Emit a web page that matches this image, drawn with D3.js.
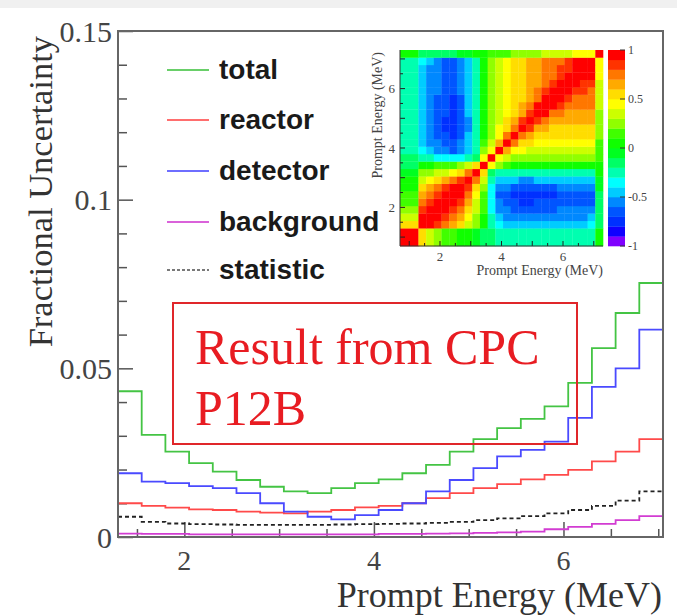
<!DOCTYPE html>
<html>
<head>
<meta charset="utf-8">
<script src="https://cdnjs.cloudflare.com/ajax/libs/d3/7.8.5/d3.min.js"></script>
<style>
  body { margin: 0; background: #fff; }
  svg { display: block; }
</style>
</head>
<body>
<div id="chart_area"></div>
<script>
// bin edges of the main histograms (MeV)
var binEdges = [1.3, 1.55, 1.8, 2.05, 2.3, 2.55, 2.8, 3.05, 3.3, 3.55, 3.8, 4.05, 4.3,
    4.55, 4.8, 5.05, 5.3, 5.55, 5.8, 6.05, 6.3, 6.55, 6.8, 7.05];

var total = [0.0432, 0.0303, 0.0253, 0.0219, 0.0194, 0.0169, 0.0149, 0.0135, 0.0130, 0.0145, 0.0160, 0.0171,
    0.0189, 0.0214, 0.0253, 0.0290, 0.0323, 0.0350, 0.0387, 0.0457, 0.0560, 0.0664, 0.0753];
var reactor = [0.0100, 0.0092, 0.0087, 0.0082, 0.0080, 0.0075, 0.0072, 0.0070, 0.0075, 0.0080, 0.0088, 0.0092,
    0.0100, 0.0115, 0.0130, 0.0145, 0.0157, 0.0171, 0.0184, 0.0199, 0.0224, 0.0253, 0.0290];
var detector = [0.0189, 0.0164, 0.0160, 0.0151, 0.0145, 0.0130, 0.0100, 0.0075, 0.0060, 0.0052, 0.0065, 0.0080,
    0.0100, 0.0135, 0.0169, 0.0204, 0.0239, 0.0258, 0.0283, 0.0353, 0.0445, 0.0500, 0.0615];
var background = [0.0010, 0.0009, 0.0009, 0.0008, 0.0008, 0.0008, 0.0008, 0.0008, 0.0008, 0.0008, 0.0008, 0.0009,
    0.0009, 0.0010, 0.0011, 0.0012, 0.0014, 0.0016, 0.0023, 0.0030, 0.0039, 0.0050, 0.0062];
var statistic = [0.0060, 0.0045, 0.0040, 0.0038, 0.0037, 0.0036, 0.0036, 0.0036, 0.0036, 0.0037, 0.0038, 0.0039,
    0.0040, 0.0042, 0.0045, 0.0050, 0.0055, 0.0062, 0.0070, 0.0080, 0.0092, 0.0108, 0.0135];

var seriesNames = ["total", "reactor", "detector", "background", "statistic"];
var yTicks = [0, 0.05, 0.1, 0.15];
var yTickLabels = ["0", "0.05", "0.1", "0.15"];
var xTicks = [2, 4, 6];

// correlation matrix of the inset (bin edges in MeV, rows from bottom)
var corrEdges = [0.7, 1.3, 1.55, 1.8, 2.05, 2.3, 2.55, 2.8, 3.05, 3.3, 3.55, 3.8, 4.05, 4.3,
    4.55, 4.8, 5.05, 5.3, 5.55, 5.8, 6.05, 6.3, 6.55, 6.8, 7.05, 7.3];
var corr = [
 [1, .5, .35, .25, .15, .1, .05, 0, -.1, -.15, -.2, -.25, -.27, -.28, -.28, -.28, -.28, -.28, -.28, -.27, -.27, -.26, -.25, -.25, 0],
 [.5, 1, .9, .8, .7, .6, .5, .35, .2, 0, -.23, -.38, -.43, -.45, -.46, -.46, -.45, -.45, -.44, -.43, -.43, -.43, -.41, -.39, -.15],
 [.35, .9, 1, .9, .85, .75, .6, .45, .25, .05, -.28, -.47, -.53, -.56, -.57, -.57, -.56, -.56, -.55, -.53, -.53, -.53, -.51, -.48, -.15],
 [.25, .8, .9, 1, .9, .85, .7, .55, .3, .1, -.32, -.53, -.6, -.63, -.64, -.64, -.63, -.63, -.62, -.6, -.6, -.6, -.57, -.55, -.15],
 [.15, .7, .85, .9, 1, .9, .8, .6, .35, .1, -.35, -.59, -.66, -.7, -.72, -.72, -.7, -.7, -.69, -.66, -.66, -.66, -.64, -.61, -.15],
 [.1, .6, .75, .85, .9, 1, .9, .7, .4, .15, -.37, -.62, -.7, -.74, -.75, -.75, -.74, -.74, -.72, -.7, -.7, -.7, -.67, -.64, -.12],
 [.05, .5, .6, .7, .8, .9, 1, .8, .5, .2, -.32, -.53, -.6, -.63, -.64, -.64, -.63, -.63, -.62, -.6, -.6, -.6, -.57, -.55, -.1],
 [0, .35, .45, .55, .6, .7, .8, 1, .7, .3, -.25, -.41, -.47, -.5, -.51, -.51, -.5, -.5, -.48, -.47, -.47, -.47, -.45, -.43, -.05],
 [-.1, .2, .25, .3, .35, .4, .5, .7, 1, .5, -.15, -.25, -.28, -.3, -.3, -.3, -.3, -.3, -.29, -.28, -.28, -.28, -.27, -.26, 0],
 [-.15, 0, .05, .1, .1, .15, .2, .3, .5, 1, .4, .2, .1, .05, .02, 0, 0, 0, 0, 0, 0, 0, 0, 0, .05],
 [-.2, -.23, -.28, -.32, -.35, -.37, -.32, -.25, -.15, .4, 1, .45, .32, .25, .2, .2, .2, .2, .2, .2, .2, .2, .2, .2, .1],
 [-.25, -.38, -.47, -.53, -.59, -.62, -.53, -.41, -.25, .2, .45, 1, .6, .47, .4, .35, .35, .35, .35, .35, .35, .35, .35, .35, .15],
 [-.27, -.43, -.53, -.6, -.66, -.7, -.6, -.47, -.28, .1, .32, .6, 1, .7, .57, .5, .45, .45, .45, .45, .45, .45, .45, .45, .18],
 [-.28, -.45, -.56, -.63, -.7, -.74, -.63, -.5, -.3, .05, .25, .47, .7, 1, .75, .62, .55, .5, .5, .5, .5, .5, .5, .5, .2],
 [-.28, -.46, -.57, -.64, -.72, -.75, -.64, -.51, -.3, .02, .2, .4, .57, .75, 1, .8, .67, .6, .55, .55, .55, .55, .55, .55, .22],
 [-.28, -.46, -.57, -.64, -.72, -.75, -.64, -.51, -.3, 0, .2, .35, .5, .62, .8, 1, .85, .72, .65, .6, .6, .6, .6, .6, .25],
 [-.28, -.45, -.56, -.63, -.7, -.74, -.63, -.5, -.3, 0, .2, .35, .45, .55, .67, .85, 1, .9, .77, .7, .65, .65, .65, .65, .28],
 [-.28, -.45, -.56, -.63, -.7, -.74, -.63, -.5, -.3, 0, .2, .35, .45, .5, .6, .72, .9, 1, .95, .82, .75, .7, .7, .7, .3],
 [-.28, -.44, -.55, -.62, -.69, -.72, -.62, -.48, -.29, 0, .2, .35, .45, .5, .55, .65, .77, .95, 1, .95, .84, .77, .72, .72, .32],
 [-.27, -.43, -.53, -.6, -.66, -.7, -.6, -.47, -.28, 0, .2, .35, .45, .5, .55, .6, .7, .82, .95, 1, .95, .87, .8, .75, .35],
 [-.27, -.43, -.53, -.6, -.66, -.7, -.6, -.47, -.28, 0, .2, .35, .45, .5, .55, .6, .65, .75, .84, .95, 1, .95, .87, .8, .38],
 [-.26, -.43, -.53, -.6, -.66, -.7, -.6, -.47, -.28, 0, .2, .35, .45, .5, .55, .6, .65, .7, .77, .87, .95, 1, .95, .9, .4],
 [-.25, -.41, -.51, -.57, -.64, -.67, -.57, -.45, -.27, 0, .2, .35, .45, .5, .55, .6, .65, .7, .72, .8, .87, .95, 1, .95, .42],
 [-.25, -.39, -.48, -.55, -.61, -.64, -.55, -.43, -.26, 0, .2, .35, .45, .5, .55, .6, .65, .7, .72, .75, .8, .9, .95, 1, .45],
 [0, -.15, -.15, -.15, -.15, -.12, -.1, -.05, 0, .05, .1, .15, .18, .2, .22, .25, .28, .3, .32, .35, .38, .4, .42, .45, 1]
];
var colorbarTicks = [1, 0.5, 0, -0.5, -1];
var insetTicks = [2, 4, 6];

// 20 colour levels of the ROOT-like palette, from -1 to 1
var palette = ["#8000ff", "#1000ff", "#0030ff", "#0055ff", "#0088ff", "#00ccff", "#00ffff", "#00ffb0",
    "#00ff66", "#00ff20", "#10ff00", "#40ff00", "#90ff00", "#ccff00", "#ffff00", "#ffdd00",
    "#ffaa00", "#ff7700", "#ff3300", "#ff0000"];

var W = 677, H = 615;
var svg = d3.select("#chart_area").append("svg")
    .attr("width", W)
    .attr("height", H);

svg.append("rect").attr("x", 0).attr("y", 0).attr("width", W).attr("height", 8).attr("fill", "#f0f0f0");

var x = d3.scaleLinear().domain([1.3, 7.05]).range([118, 663]);
var y = d3.scaleLinear().domain([0, 0.15]).range([537, 31]);

var serif = "'Liberation Serif', 'Times New Roman', serif";
var sans = "'Liberation Sans', Arial, sans-serif";

// axes (ticks inside, ROOT style)
var yAxis = d3.axisRight(y).tickValues(d3.range(0, 0.1501, 0.01)).tickSize(9).tickFormat("");
svg.append("g").attr("transform", "translate(118,0)").call(yAxis)
    .call(function(g) { g.select(".domain").remove(); })
    .selectAll("line").attr("stroke", "#555").attr("stroke-width", 1.5)
    .attr("x2", function(d) { return yTicks.some(function(t) { return Math.abs(t - d) < 1e-6; }) ? 15 : 9; });

var xAxis = d3.axisTop(x).tickValues(d3.range(1.5, 7.01, 0.5)).tickSize(8).tickFormat("");
svg.append("g").attr("transform", "translate(0,537)").call(xAxis)
    .call(function(g) { g.select(".domain").remove(); })
    .selectAll("line").attr("stroke", "#555").attr("stroke-width", 1.5)
    .attr("y2", function(d) { return xTicks.indexOf(d) >= 0 ? -15 : -8; });

svg.append("g").selectAll("text").data(yTicks).enter().append("text")
    .attr("x", 112).attr("y", function(d) { return y(d); })
    .attr("dy", "0.35em").attr("text-anchor", "end")
    .style("font-family", serif).style("font-size", "30px").attr("fill", "#444")
    .text(function(d, i) { return yTickLabels[i]; });

svg.append("g").selectAll("text").data(xTicks).enter().append("text")
    .attr("x", function(d) { return x(d); }).attr("y", 570)
    .attr("text-anchor", "middle")
    .style("font-family", serif).style("font-size", "28px").attr("fill", "#444")
    .text(function(d) { return d; });

svg.append("text").attr("x", 662).attr("y", 607).attr("text-anchor", "end")
    .style("font-family", serif).style("font-size", "36px").attr("fill", "#333")
    .text("Prompt Energy (MeV)");

svg.append("text").attr("transform", "translate(52,36) rotate(-90)").attr("text-anchor", "end")
    .style("font-family", serif).style("font-size", "34.5px").attr("fill", "#333")
    .text("Fractional Uncertainty");

// step histograms
var styles = {
    total: { color: "#44c444", dash: null },
    reactor: { color: "#ff4a4a", dash: null },
    detector: { color: "#4a4aff", dash: null },
    background: { color: "#d23cd2", dash: null },
    statistic: { color: "#222", dash: "4,3" }
};
var values = { total: total, reactor: reactor, detector: detector, background: background, statistic: statistic };

var step = d3.line()
    .x(function(d) { return x(d[0]); })
    .y(function(d) { return y(d[1]); })
    .curve(d3.curveStepAfter);

var drawOrder = ["background", "statistic", "reactor", "detector", "total"];
drawOrder.forEach(function(name) {
    var v = values[name];
    var pts = v.map(function(val, i) { return [binEdges[i], val]; });
    pts.push([binEdges[binEdges.length - 1], v[v.length - 1]]);
    svg.append("path").datum(pts)
        .attr("d", step)
        .attr("fill", "none")
        .attr("stroke", styles[name].color)
        .attr("stroke-width", 1.8)
        .attr("stroke-dasharray", styles[name].dash);
});

// frame
svg.append("rect").attr("x", 118).attr("y", 31).attr("width", 545).attr("height", 506)
    .attr("fill", "none").attr("stroke", "#666").attr("stroke-width", 2);

// legend
var legendY = [70, 120, 171, 222, 270];
var legend = svg.append("g").selectAll("g").data(seriesNames).enter().append("g")
    .attr("transform", function(d, i) { return "translate(0," + legendY[i] + ")"; });
legend.append("line").attr("x1", 167).attr("x2", 209).attr("y1", 0).attr("y2", 0)
    .attr("stroke", function(d) { return styles[d].color; })
    .attr("stroke-width", function(d) { return d === "statistic" ? 1.5 : 2; })
    .attr("stroke-dasharray", function(d) { return d === "statistic" ? "3,2" : null; })
    .attr("opacity", 0.8);
legend.append("text").attr("x", 219).attr("y", 9)
    .style("font-family", sans).style("font-weight", "bold").style("font-size", "28px")
    .attr("fill", "#1a1a1a")
    .text(function(d) { return d; });

// red note box
svg.append("rect").attr("x", 173).attr("y", 303).attr("width", 404).attr("height", 141)
    .attr("fill", "none").attr("stroke", "#e0262a").attr("stroke-width", 2);
svg.append("text").attr("x", 195).attr("y", 364)
    .style("font-family", serif).style("font-size", "50px").attr("fill", "#e81c22")
    .text("Result from CPC");
svg.append("text").attr("x", 195).attr("y", 425)
    .style("font-family", serif).style("font-size", "50px").attr("fill", "#e81c22")
    .text("P12B");

// inset correlation matrix
var ix = d3.scaleLinear().domain([0.7, 7.3]).range([400, 603]);
var iy = d3.scaleLinear().domain([0.7, 7.3]).range([246, 50]);
function level(v) { return Math.max(0, Math.min(19, Math.floor((v + 1) / 0.1 + 1e-9))); }

var cells = [];
corr.forEach(function(row, r) {
    row.forEach(function(v, c) { cells.push({ r: r, c: c, v: v }); });
});
var inset = svg.append("g");
inset.selectAll("rect.cell").data(cells).enter().append("rect")
    .attr("class", "cell")
    .attr("x", function(d) { return ix(corrEdges[d.c]); })
    .attr("y", function(d) { return iy(corrEdges[d.r + 1]); })
    .attr("width", function(d) { return ix(corrEdges[d.c + 1]) - ix(corrEdges[d.c]) + 0.3; })
    .attr("height", function(d) { return iy(corrEdges[d.r]) - iy(corrEdges[d.r + 1]) + 0.3; })
    .attr("fill", function(d) { return palette[level(d.v)]; });

var inTicks = d3.range(1, 7.01, 0.5);
inset.append("g").selectAll("line").data(inTicks).enter().append("line")
    .attr("x1", 400).attr("x2", function(d) { return 400 + (d % 1 === 0 ? 5 : 3); })
    .attr("y1", function(d) { return iy(d); }).attr("y2", function(d) { return iy(d); })
    .attr("stroke", "#222").attr("stroke-width", 1);
inset.append("g").selectAll("line").data(inTicks).enter().append("line")
    .attr("y1", 246).attr("y2", function(d) { return 246 - (d % 1 === 0 ? 5 : 3); })
    .attr("x1", function(d) { return ix(d); }).attr("x2", function(d) { return ix(d); })
    .attr("stroke", "#222").attr("stroke-width", 1);
inset.append("line").attr("x1", 400).attr("x2", 400).attr("y1", 50).attr("y2", 246).attr("stroke", "#333");
inset.append("line").attr("x1", 400).attr("x2", 603).attr("y1", 246).attr("y2", 246).attr("stroke", "#333");

inset.append("g").selectAll("text").data(insetTicks).enter().append("text")
    .attr("x", 395).attr("y", function(d) { return iy(d); }).attr("dy", "0.35em")
    .attr("text-anchor", "end")
    .style("font-family", serif).style("font-size", "13px").attr("fill", "#444")
    .text(function(d) { return d; });
inset.append("g").selectAll("text").data(insetTicks).enter().append("text")
    .attr("x", function(d) { return ix(d); }).attr("y", 261)
    .attr("text-anchor", "middle")
    .style("font-family", serif).style("font-size", "13px").attr("fill", "#444")
    .text(function(d) { return d; });
inset.append("text").attr("x", 603).attr("y", 275).attr("text-anchor", "end")
    .style("font-family", serif).style("font-size", "14px").attr("fill", "#444")
    .text("Prompt Energy (MeV)");
inset.append("text").attr("transform", "translate(382,52) rotate(-90)").attr("text-anchor", "end")
    .style("font-family", serif).style("font-size", "14px").attr("fill", "#444")
    .text("Prompt Energy (MeV)");

// colour bar
var cb = d3.scaleLinear().domain([-1, 1]).range([246, 50]);
inset.append("g").selectAll("rect").data(palette).enter().append("rect")
    .attr("x", 608).attr("width", 17)
    .attr("y", function(d, i) { return cb(-1 + (i + 1) * 0.1); })
    .attr("height", function(d, i) { return cb(-1 + i * 0.1) - cb(-1 + (i + 1) * 0.1) + 0.3; })
    .attr("fill", function(d) { return d; });
inset.append("g").selectAll("line").data(colorbarTicks).enter().append("line")
    .attr("x1", 620).attr("x2", 625)
    .attr("y1", function(d) { return cb(d); }).attr("y2", function(d) { return cb(d); })
    .attr("stroke", "#333");
inset.append("g").selectAll("text").data(colorbarTicks).enter().append("text")
    .attr("x", 628).attr("y", function(d) { return cb(d); }).attr("dy", "0.35em")
    .style("font-family", serif).style("font-size", "12px").attr("fill", "#444")
    .text(function(d) { return d; });
</script>
</body>
</html>
